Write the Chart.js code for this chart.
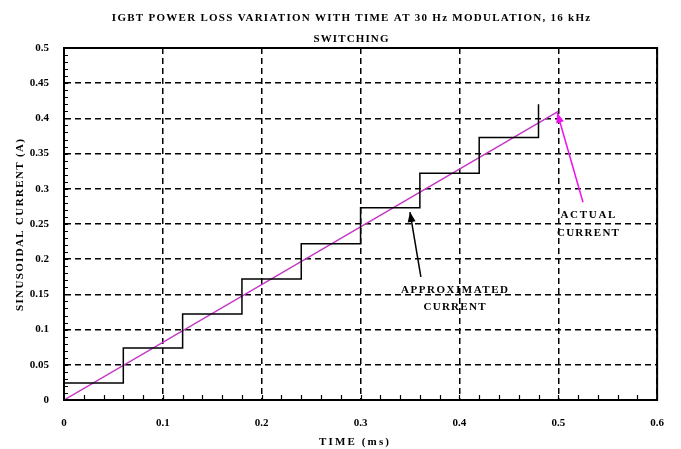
<!DOCTYPE html>
<html>
<head>
<meta charset="utf-8">
<script src="https://cdn.jsdelivr.net/npm/chart.js@4.4.1/dist/chart.umd.min.js"></script>
<style>
  html, body { margin: 0; padding: 0; background: #fff; }
  #wrap { width: 681px; height: 449px; }
</style>
</head>
<body>
<div id="wrap"><canvas id="grafico" width="681" height="449"></canvas></div>
<script>
/* dados */
const tempoDegraus = [0, 0.06, 0.12, 0.18, 0.24, 0.30, 0.36, 0.42, 0.48];
const correnteDegraus = [0.024, 0.074, 0.122, 0.172, 0.222, 0.273, 0.322, 0.373, 0.420];
const tempoReal = [0, 0.5];
const correnteReal = [0, 0.41];
const setaRealX = [0.525, 0.499];
const setaRealY = [0.281, 0.408];
const setaAproxX = [0.361, 0.350];
const setaAproxY = [0.175, 0.267];
const tituloLinhas = ['IGBT POWER LOSS VARIATION WITH TIME AT 30 Hz MODULATION, 16 kHz', 'SWITCHING'];
const rotulos = [
  { texto: 'ACTUAL', x: 0.530, y: 0.263 },
  { texto: 'CURRENT', x: 0.530, y: 0.237 },
  { texto: 'APPROXIMATED', x: 0.395, y: 0.156 },
  { texto: 'CURRENT', x: 0.395, y: 0.132 }
];

const fonteSerif = "'Liberation Serif', 'DejaVu Serif', serif";
const pontos = (xs, ys) => xs.map((x, i) => ({ x: x, y: ys[i] }));

/* escreve o texto esticando o espaçamento até a largura pedida */
function textoLargura(ctx, texto, x, y, largura) {
  ctx.letterSpacing = '0px';
  const w = ctx.measureText(texto).width;
  const esp = Math.max(0, (largura - w) / (texto.length - 1));
  ctx.letterSpacing = esp.toFixed(2) + 'px';
  ctx.fillText(texto, x + esp / 2, y);
}

/* plugin: caixa, marcas menores, setas, textos */
const extras = {
  id: 'extras',
  afterDatasetsDraw(chart) {
    const ctx = chart.ctx;
    const a = chart.chartArea;
    const sx = chart.scales.x, sy = chart.scales.y;
    ctx.save();

    // marcas menores
    ctx.strokeStyle = '#000';
    ctx.lineWidth = 1.2;
    ctx.beginPath();
    for (let i = 1; i < 30; i++) {
      const px = Math.round(sx.getPixelForValue(i * 0.02)) + 0.5;
      ctx.moveTo(px, a.bottom);
      ctx.lineTo(px, a.bottom - 5);
    }
    for (let i = 1; i < 50; i++) {
      const py = Math.round(sy.getPixelForValue(i * 0.01)) + 0.5;
      ctx.moveTo(a.left, py);
      ctx.lineTo(a.left + 4, py);
    }
    ctx.stroke();

    // caixa
    ctx.lineWidth = 2;
    ctx.strokeRect(a.left, a.top, a.right - a.left, a.bottom - a.top);

    // pontas das setas
    const ponta = (xs, ys, cor) => {
      const x1 = sx.getPixelForValue(xs[0]), y1 = sy.getPixelForValue(ys[0]);
      const x2 = sx.getPixelForValue(xs[1]), y2 = sy.getPixelForValue(ys[1]);
      const ang = Math.atan2(y2 - y1, x2 - x1);
      const L = 10, W = 4;
      ctx.fillStyle = cor;
      ctx.beginPath();
      ctx.moveTo(x2, y2);
      ctx.lineTo(x2 - L * Math.cos(ang) + W * Math.sin(ang), y2 - L * Math.sin(ang) - W * Math.cos(ang));
      ctx.lineTo(x2 - L * Math.cos(ang) - W * Math.sin(ang), y2 - L * Math.sin(ang) + W * Math.cos(ang));
      ctx.closePath();
      ctx.fill();
    };
    ponta(setaRealX, setaRealY, '#ee11ee');
    ponta(setaAproxX, setaAproxY, '#000');

    // textos
    ctx.fillStyle = '#000';
    ctx.textAlign = 'center';
    ctx.textBaseline = 'middle';
    ctx.font = 'bold 11px ' + fonteSerif;
    textoLargura(ctx, 'ACTUAL', sx.getPixelForValue(rotulos[0].x), sy.getPixelForValue(rotulos[0].y), 55);
    textoLargura(ctx, 'CURRENT', sx.getPixelForValue(rotulos[1].x), sy.getPixelForValue(rotulos[1].y), 62);
    textoLargura(ctx, 'APPROXIMATED', sx.getPixelForValue(rotulos[2].x), sy.getPixelForValue(rotulos[2].y), 107);
    textoLargura(ctx, 'CURRENT', sx.getPixelForValue(rotulos[3].x), sy.getPixelForValue(rotulos[3].y), 62);

    // título
    ctx.font = 'bold 11px ' + fonteSerif;
    textoLargura(ctx, tituloLinhas[0], 351, 18, 478);
    textoLargura(ctx, tituloLinhas[1], 351, 39, 75);

    // títulos dos eixos
    textoLargura(ctx, 'TIME (ms)', 354, 442, 70);
    ctx.translate(20, 225);
    ctx.rotate(-Math.PI / 2);
    textoLargura(ctx, 'SINUSOIDAL CURRENT (A)', 0, 0, 172);

    ctx.restore();
  }
};

const formato = v => String(Number(v.toFixed(2)));

const ctxGrafico = document.getElementById('grafico');
new Chart(ctxGrafico, {
  type: 'line',
  data: {
    datasets: [
      {
        label: 'Approximated current',
        data: pontos(tempoDegraus, correnteDegraus),
        stepped: 'before',
        borderColor: '#000',
        borderWidth: 1.5,
        pointRadius: 0,
        fill: false
      },
      {
        label: 'Actual current',
        data: pontos(tempoReal, correnteReal),
        borderColor: '#c436c4',
        borderWidth: 1.5,
        pointRadius: 0,
        fill: false
      },
      {
        label: 'seta real',
        data: pontos(setaRealX, setaRealY),
        borderColor: '#ee11ee',
        borderWidth: 1.5,
        pointRadius: 0,
        fill: false
      },
      {
        label: 'seta aproximada',
        data: pontos(setaAproxX, setaAproxY),
        borderColor: '#000',
        borderWidth: 1.5,
        pointRadius: 0,
        fill: false
      }
    ]
  },
  options: {
    responsive: false,
    animation: false,
    layout: { padding: { top: 48, right: 18, left: 0, bottom: 0 } },
    plugins: { legend: { display: false }, tooltip: { enabled: false }, title: { display: false } },
    scales: {
      x: {
        type: 'linear',
        min: 0,
        max: 0.6,
        afterFit: s => { s.height = 49; },
        ticks: {
          stepSize: 0.1,
          padding: 17,
          color: '#000',
          font: { family: fonteSerif, size: 11, weight: 'bold' },
          callback: formato
        },
        grid: { color: '#000', lineWidth: 1.5, drawTicks: false },
        border: { color: '#000', width: 2, dash: [6, 4] }
      },
      y: {
        type: 'linear',
        min: 0,
        max: 0.5,
        afterFit: s => { s.width = 64; },
        ticks: {
          stepSize: 0.05,
          padding: 15,
          color: '#000',
          font: { family: fonteSerif, size: 11, weight: 'bold' },
          callback: formato
        },
        grid: { color: '#000', lineWidth: 1.5, drawTicks: false },
        border: { color: '#000', width: 2, dash: [6, 4] }
      }
    }
  },
  plugins: [extras]
});
</script>
</body>
</html>
